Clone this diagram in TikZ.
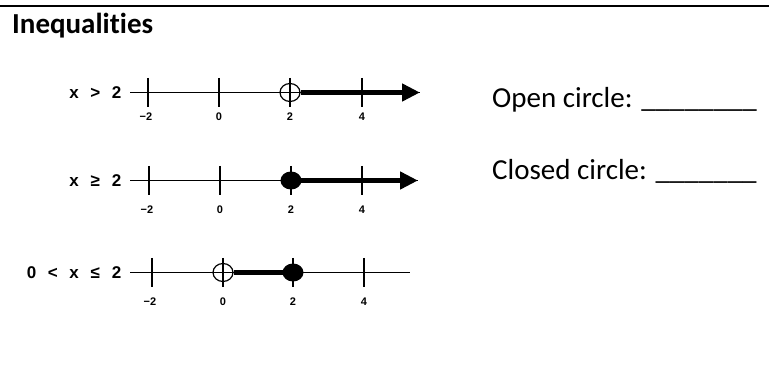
\documentclass[tikz,border=0pt]{standalone}
\usepackage{fontspec}
\setmainfont{Carlito}[Ligatures=NoCommon]
\newfontfamily\nlfont{Liberation Sans}
\newcommand\chb[1]{\makebox[10.6pt][c]{#1}}
\usetikzlibrary{arrows.meta,shapes.geometric}
\tikzset{
  axisln/.style={line width=1.3pt},
  tickln/.style={line width=1.5pt},
  ray/.style={line width=5pt},
  rayhead/.style={ray,-{Triangle[length=18pt,width=17pt]}},
  opendot/.style={ellipse,draw,line width=1.2pt,minimum width=20pt,minimum height=18pt,inner sep=0pt},
  closeddot/.style={ellipse,fill=black,minimum width=21pt,minimum height=18pt,inner sep=0pt},
  ineq/.style={anchor=east,inner sep=0pt,font=\nlfont\bfseries\fontsize{17}{20}\selectfont},
  ticklab/.style={inner sep=0pt,font=\nlfont\bfseries\fontsize{11}{13}\selectfont},
  bigtext/.style={anchor=base west,inner sep=0pt,font=\fontsize{29}{34}\selectfont},
}
\begin{document}
\begin{tikzpicture}[x=1pt,y=-1pt]
\useasboundingbox (0,0) rectangle (769,366);
% top rule
\coordinate (rl) at (0,6);
\coordinate (rr) at (769,6);
\draw[line width=2.4pt] (rl) -- (rr);
% title and right-hand texts
\node[bigtext,font=\bfseries\fontsize{29}{34}\selectfont] (title) at (12,33.5) {Inequalities};
\node[bigtext] (open) at (492,108) {Open circle: \_\_\_\_\_\_\_\_};
\node[bigtext] (closed) at (492,180) {Closed circle: \_\_\_\_\_\_\_};

% ---- line 1: x > 2
\node[ineq] (l1) at (122,93) {\chb{x}\chb{}\chb{>}\chb{}\chb{2}};
\coordinate (a1s) at (130,92.5);
\coordinate (a1e) at (420,92.5);
\draw[axisln] (a1s) -- (a1e);
\node[opendot] (o1) at (290,92.5) {};
\draw[rayhead] (o1.east) -- (a1e);
\foreach \x/\lx/\l in {148/146/−2,219/219/0,290/290/2,362/362/4}{
  \draw[tickln] (\x,78) -- (\x,107);
  \node[ticklab] at (\lx,117) {\l};
}

% ---- line 2: x >= 2
\node[ineq] (l2) at (122,181) {\chb{x}\chb{}\chb{≥}\chb{}\chb{2}};
\coordinate (a2s) at (130,180.5);
\coordinate (a2e) at (418,180.5);
\draw[axisln] (a2s) -- (a2e);
\foreach \x/\lx/\l in {149/147/−2,220/220/0,291/291/2,362/362/4}{
  \draw[tickln] (\x,166) -- (\x,195);
  \node[ticklab] at (\lx,210) {\l};
}
\node[closeddot] (c2) at (291,180.5) {};
\draw[rayhead] (c2.center) -- (a2e);

% ---- line 3: 0 < x <= 2
\node[ineq] (l3) at (122,273) {\chb{0}\chb{}\chb{<}\chb{}\chb{x}\chb{}\chb{≤}\chb{}\chb{2}};
\coordinate (a3s) at (130,272.5);
\coordinate (a3e) at (410,272.5);
\draw[axisln] (a3s) -- (a3e);
\foreach \x/\lx/\l in {152/150/−2,223/223/0,293/293/2,364/364/4}{
  \draw[tickln] (\x,258) -- (\x,287);
  \node[ticklab] at (\lx,302) {\l};
}
\node[opendot] (o3) at (223,272.5) {};
\node[closeddot] (c3) at (293,272.5) {};
\draw[ray] (o3.east) -- (c3.center);
\end{tikzpicture}
\end{document}
